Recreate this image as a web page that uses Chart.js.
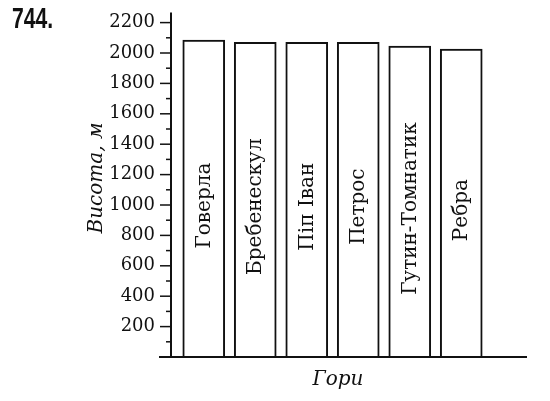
<!DOCTYPE html>
<html>
<head>
<meta charset="utf-8">
<script src="https://cdn.jsdelivr.net/npm/chart.js"></script>
<style>
  body { margin: 0; background: #fff; }
  #wrap { position: relative; width: 550px; height: 401px; }
  #num { position: absolute; left: 12px; top: 2px; font: bold 29px "Liberation Sans", Arial, sans-serif;
         color: #111; transform: scaleX(0.73); transform-origin: left top; }
</style>
</head>
<body>
<div id="wrap">
  <canvas id="myChart"></canvas>
  <div id="num">744.</div>
</div>
<script>
// ===== data =====
var mountains = ['Говерла', 'Бребенескул', 'Піп Іван', 'Петрос', 'Гутин-Томнатик', 'Ребра'];
var heights = [2085, 2070, 2070, 2070, 2045, 2025];
var yTitle = 'Висота, м';
var xTitle = 'Гори';

const ink = '#111';

// axis lines, tick marks, names inside the bars, axis titles
const extras = {
  id: 'extras',
  afterDraw(chart) {
    const c = chart.ctx;
    const y = chart.scales.y;
    const x0 = y.right - 7;   // axis sits a little left of the first category
    const base = y.getPixelForValue(0);
    const top = y.getPixelForValue(2200);
    c.save();
    c.strokeStyle = ink;
    c.lineWidth = 2;
    // y axis
    c.beginPath();
    c.moveTo(x0, base);
    c.lineTo(x0, top - 10);
    c.stroke();
    // x axis
    c.beginPath();
    c.moveTo(x0 - 12, base);
    c.lineTo(527, base);
    c.stroke();
    // ticks
    c.lineWidth = 1.5;
    y.ticks.forEach(t => {
      if (t.value <= 0) return;
      const py = y.getPixelForValue(t.value);
      const len = t.value % 200 === 0 ? 11 : 5;
      c.beginPath();
      c.moveTo(x0 - len, py);
      c.lineTo(x0, py);
      c.stroke();
    });
    // names in the bars
    c.fillStyle = ink;
    c.font = '20px "DejaVu Serif", serif';
    c.textAlign = 'center';
    c.textBaseline = 'middle';
    chart.getDatasetMeta(0).data.forEach((bar, i) => {
      c.save();
      c.translate(bar.x + 1, (bar.y + bar.base) / 2 + 7);
      c.rotate(-Math.PI / 2);
      c.fillText(mountains[i], 0, 0);
      c.restore();
    });
    // titles
    c.font = 'italic 20px "DejaVu Serif", serif';
    c.save();
    c.translate(97, 178);
    c.rotate(-Math.PI / 2);
    c.fillText(yTitle, 0, 0);
    c.restore();
    c.fillText(xTitle, 338, 380);
    c.restore();
  }
};

const ctx = document.getElementById('myChart');

const myChart = new Chart(ctx, {
  type: 'bar',
  data: {
    labels: mountains,
    datasets: [{
      data: heights,
      backgroundColor: '#fff',
      borderColor: ink,
      borderWidth: 2,
      barThickness: 42
    }]
  },
  options: {
    responsive: true,
    maintainAspectRatio: false,
    animation: false,
    layout: { padding: { top: 22.6, right: 63, bottom: 44, left: 0 } },
    plugins: { legend: { display: false }, tooltip: { enabled: false } },
    scales: {
      x: {
        display: false,
        offset: true
      },
      y: {
        min: 0,
        max: 2200,
        border: { display: false },
        grid: { display: false, drawTicks: false },
        afterFit(scale) {
          scale.width = 178;
          scale.paddingTop = 0;
          scale.paddingBottom = 0;
        },
        ticks: {
          stepSize: 100,
          autoSkip: false,
          padding: 23,
          color: ink,
          font: { family: '"DejaVu Serif", serif', size: 18 },
          callback: v => (v > 0 && v % 200 === 0) ? String(v) : ''
        }
      }
    }
  },
  plugins: [extras]
});
</script>
</body>
</html>
